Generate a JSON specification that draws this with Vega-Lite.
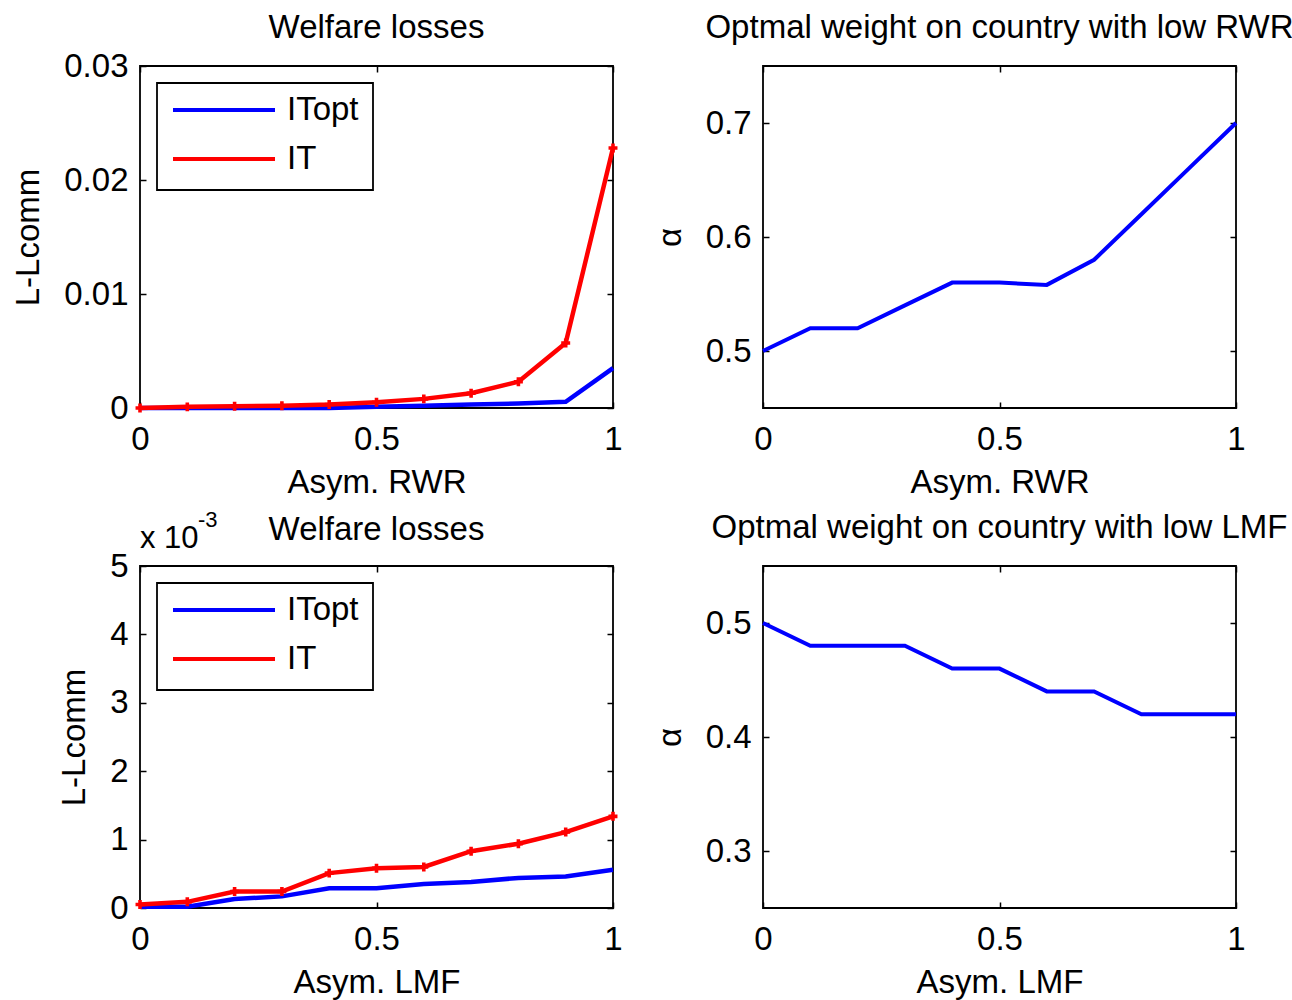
{
  "$schema": "https://vega.github.io/schema/vega-lite/v6.json",
  "background": "white",
  "padding": {"left": 11, "top": 11, "right": 5, "bottom": 5},
  "columns": 2,
  "spacing": {"row": 158, "column": 150},
  "bounds": "flush",
  "resolve": {"scale": {"color": "independent"}, "legend": {"color": "independent"}},
  "config": {
    "font": "Liberation Sans",
    "view": {"stroke": "black", "strokeWidth": 1.8},
    "axis": {
      "labelFont": "Liberation Sans", "titleFont": "Liberation Sans",
      "labelFontSize": 33, "titleFontSize": 33, "titleFontWeight": "normal",
      "labelColor": "black", "titleColor": "black",
      "domain": false, "grid": false,
      "tickColor": "black", "tickSize": -6, "tickWidth": 1.5,
      "labelFlush": false, "labelOverlap": false,
      "format": "~g"
    },
    "axisX": {"titlePadding": 10, "labelPadding": 21},
    "axisY": {"titlePadding": 18, "labelPadding": 18},
    "title": {"font": "Liberation Sans", "fontSize": 33, "fontWeight": "normal", "color": "black", "baseline": "alphabetic", "frame": "group"},
    "legend": {
      "orient": "top-left", "offset": 17, "title": null,
      "labelFont": "Liberation Sans", "labelFontSize": 33, "labelColor": "black", "labelOffset": 10, "labelLimit": 300,
      "symbolType": "stroke", "symbolSize": 10404, "symbolStrokeWidth": 4,
      "clipHeight": 26, "rowPadding": 16, "padding": 14,
      "strokeColor": "black", "fillColor": "white", "strokeWidth": 1.8
    }
  },
  "concat": [
    {
      "width": 473, "height": 342,
      "title": {"text": "Welfare losses", "offset": 5},
      "data": {"values": [
        {"x": 0.0, "series": "ITopt", "y": 0},
        {"x": 0.1, "series": "ITopt", "y": 0},
        {"x": 0.2, "series": "ITopt", "y": 0},
        {"x": 0.3, "series": "ITopt", "y": 0},
        {"x": 0.4, "series": "ITopt", "y": 0},
        {"x": 0.5, "series": "ITopt", "y": 0.0001},
        {"x": 0.6, "series": "ITopt", "y": 0.0002},
        {"x": 0.7, "series": "ITopt", "y": 0.0003},
        {"x": 0.8, "series": "ITopt", "y": 0.0004},
        {"x": 0.9, "series": "ITopt", "y": 0.00055},
        {"x": 1.0, "series": "ITopt", "y": 0.0035},
        {"x": 0.0, "series": "IT", "y": 0},
        {"x": 0.1, "series": "IT", "y": 0.0001},
        {"x": 0.2, "series": "IT", "y": 0.00015},
        {"x": 0.3, "series": "IT", "y": 0.0002},
        {"x": 0.4, "series": "IT", "y": 0.0003},
        {"x": 0.5, "series": "IT", "y": 0.0005},
        {"x": 0.6, "series": "IT", "y": 0.0008},
        {"x": 0.7, "series": "IT", "y": 0.0013},
        {"x": 0.8, "series": "IT", "y": 0.0023},
        {"x": 0.9, "series": "IT", "y": 0.0057},
        {"x": 1.0, "series": "IT", "y": 0.0228}
      ]},
      "layer": [
        {
          "mark": {"type": "line", "strokeWidth": 4.5},
          "encoding": {
            "x": {"field": "x", "type": "quantitative", "scale": {"domain": [0, 1], "nice": false}, "axis": {"values": [0, 0.5, 1], "title": "Asym. RWR"}},
            "y": {"field": "y", "type": "quantitative", "scale": {"domain": [0, 0.03], "nice": false}, "axis": {"values": [0, 0.01, 0.02, 0.03], "title": "L-Lcomm"}},
            "color": {"field": "series", "type": "nominal", "scale": {"domain": ["ITopt", "IT"], "range": ["#0000ff", "#ff0000"]}}
          }
        },
        {
          "transform": [{"filter": "datum.series == 'IT'"}],
          "mark": {"type": "point", "shape": "cross", "filled": true, "size": 80, "color": "#ff0000", "opacity": 1},
          "encoding": {
            "x": {"field": "x", "type": "quantitative", "axis": null},
            "y": {"field": "y", "type": "quantitative", "axis": null}
          }
        },
        {
          "mark": {"type": "point", "opacity": 0},
          "encoding": {
            "x": {"field": "x", "type": "quantitative", "axis": {"orient": "top", "values": [0, 0.5, 1], "labels": false, "title": null}},
            "y": {"field": "y", "type": "quantitative", "axis": {"orient": "right", "values": [0, 0.01, 0.02, 0.03], "labels": false, "title": null}}
          }
        }
      ],
      "resolve": {"axis": {"x": "independent", "y": "independent"}}
    },
    {
      "width": 473, "height": 342,
      "title": {"text": "Optmal weight on country with low RWR", "offset": 20},
      "data": {"values": [
        {"x": 0.0, "y": 0.50},
        {"x": 0.1, "y": 0.52},
        {"x": 0.2, "y": 0.52},
        {"x": 0.3, "y": 0.54},
        {"x": 0.4, "y": 0.56},
        {"x": 0.5, "y": 0.56},
        {"x": 0.6, "y": 0.558},
        {"x": 0.7, "y": 0.58},
        {"x": 0.8, "y": 0.62},
        {"x": 0.9, "y": 0.66},
        {"x": 1.0, "y": 0.70}
      ]},
      "layer": [
        {
          "mark": {"type": "line", "strokeWidth": 4, "color": "#0000ff"},
          "encoding": {
            "x": {"field": "x", "type": "quantitative", "scale": {"domain": [0, 1], "nice": false}, "axis": {"values": [0, 0.5, 1], "title": "Asym. RWR"}},
            "y": {"field": "y", "type": "quantitative", "scale": {"domain": [0.45, 0.75], "nice": false, "zero": false}, "axis": {"values": [0.5, 0.6, 0.7], "title": "α"}}
          }
        },
        {
          "mark": {"type": "point", "opacity": 0},
          "encoding": {
            "x": {"field": "x", "type": "quantitative", "axis": {"orient": "top", "values": [0, 0.5, 1], "labels": false, "title": null}},
            "y": {"field": "y", "type": "quantitative", "axis": {"orient": "right", "values": [0.5, 0.6, 0.7], "labels": false, "title": null}}
          }
        }
      ],
      "resolve": {"axis": {"x": "independent", "y": "independent"}}
    },
    {
      "width": 473, "height": 342,
      "title": {"text": "Welfare losses", "offset": -38},
      "data": {"values": [
        {"x": 0.0, "series": "ITopt", "y": 0.02},
        {"x": 0.1, "series": "ITopt", "y": 0.02},
        {"x": 0.2, "series": "ITopt", "y": 0.13},
        {"x": 0.3, "series": "ITopt", "y": 0.17},
        {"x": 0.4, "series": "ITopt", "y": 0.29},
        {"x": 0.5, "series": "ITopt", "y": 0.29},
        {"x": 0.6, "series": "ITopt", "y": 0.35},
        {"x": 0.7, "series": "ITopt", "y": 0.38},
        {"x": 0.8, "series": "ITopt", "y": 0.44},
        {"x": 0.9, "series": "ITopt", "y": 0.46},
        {"x": 1.0, "series": "ITopt", "y": 0.56},
        {"x": 0.0, "series": "IT", "y": 0.05},
        {"x": 0.1, "series": "IT", "y": 0.09},
        {"x": 0.2, "series": "IT", "y": 0.24},
        {"x": 0.3, "series": "IT", "y": 0.24},
        {"x": 0.4, "series": "IT", "y": 0.51},
        {"x": 0.5, "series": "IT", "y": 0.58},
        {"x": 0.6, "series": "IT", "y": 0.60},
        {"x": 0.7, "series": "IT", "y": 0.83},
        {"x": 0.8, "series": "IT", "y": 0.94},
        {"x": 0.9, "series": "IT", "y": 1.11},
        {"x": 1.0, "series": "IT", "y": 1.34}
      ]},
      "layer": [
        {
          "mark": {"type": "line", "strokeWidth": 4.5},
          "encoding": {
            "x": {"field": "x", "type": "quantitative", "scale": {"domain": [0, 1], "nice": false}, "axis": {"values": [0, 0.5, 1], "title": "Asym. LMF"}},
            "y": {"field": "y", "type": "quantitative", "scale": {"domain": [0, 5], "nice": false}, "axis": {"values": [0, 1, 2, 3, 4, 5], "title": "L-Lcomm"}},
            "color": {"field": "series", "type": "nominal", "scale": {"domain": ["ITopt", "IT"], "range": ["#0000ff", "#ff0000"]}}
          }
        },
        {
          "transform": [{"filter": "datum.series == 'IT'"}],
          "mark": {"type": "point", "shape": "cross", "filled": true, "size": 80, "color": "#ff0000", "opacity": 1},
          "encoding": {
            "x": {"field": "x", "type": "quantitative", "axis": null},
            "y": {"field": "y", "type": "quantitative", "axis": null}
          }
        },
        {
          "mark": {"type": "point", "opacity": 0},
          "encoding": {
            "x": {"field": "x", "type": "quantitative", "axis": {"orient": "top", "values": [0, 0.5, 1], "labels": false, "title": null}},
            "y": {"field": "y", "type": "quantitative", "axis": {"orient": "right", "values": [0, 1, 2, 3, 4, 5], "labels": false, "title": null}}
          }
        },
        {
          "data": {"values": [{"note": "x 10"}]},
          "mark": {"type": "text", "align": "left", "baseline": "alphabetic", "fontSize": 31, "dy": -18, "dx": 0, "color": "black"},
          "encoding": {
            "text": {"field": "note"},
            "x": {"datum": 0, "type": "quantitative", "axis": null},
            "y": {"datum": 5, "type": "quantitative", "axis": null}
          }
        },
        {
          "data": {"values": [{"note": "-3"}]},
          "mark": {"type": "text", "align": "left", "baseline": "alphabetic", "fontSize": 22, "dy": -39, "dx": 58, "color": "black"},
          "encoding": {
            "text": {"field": "note"},
            "x": {"datum": 0, "type": "quantitative", "axis": null},
            "y": {"datum": 5, "type": "quantitative", "axis": null}
          }
        }
      ],
      "resolve": {"axis": {"x": "independent", "y": "independent"}}
    },
    {
      "width": 473, "height": 342,
      "title": {"text": "Optmal weight on country with low LMF", "offset": 20},
      "data": {"values": [
        {"x": 0.0, "y": 0.50},
        {"x": 0.1, "y": 0.48},
        {"x": 0.2, "y": 0.48},
        {"x": 0.3, "y": 0.48},
        {"x": 0.4, "y": 0.46},
        {"x": 0.5, "y": 0.46},
        {"x": 0.6, "y": 0.44},
        {"x": 0.7, "y": 0.44},
        {"x": 0.8, "y": 0.42},
        {"x": 0.9, "y": 0.42},
        {"x": 1.0, "y": 0.42}
      ]},
      "layer": [
        {
          "mark": {"type": "line", "strokeWidth": 4, "color": "#0000ff"},
          "encoding": {
            "x": {"field": "x", "type": "quantitative", "scale": {"domain": [0, 1], "nice": false}, "axis": {"values": [0, 0.5, 1], "title": "Asym. LMF"}},
            "y": {"field": "y", "type": "quantitative", "scale": {"domain": [0.25, 0.55], "nice": false, "zero": false}, "axis": {"values": [0.3, 0.4, 0.5], "title": "α"}}
          }
        },
        {
          "mark": {"type": "point", "opacity": 0},
          "encoding": {
            "x": {"field": "x", "type": "quantitative", "axis": {"orient": "top", "values": [0, 0.5, 1], "labels": false, "title": null}},
            "y": {"field": "y", "type": "quantitative", "axis": {"orient": "right", "values": [0.3, 0.4, 0.5], "labels": false, "title": null}}
          }
        }
      ],
      "resolve": {"axis": {"x": "independent", "y": "independent"}}
    }
  ]
}
